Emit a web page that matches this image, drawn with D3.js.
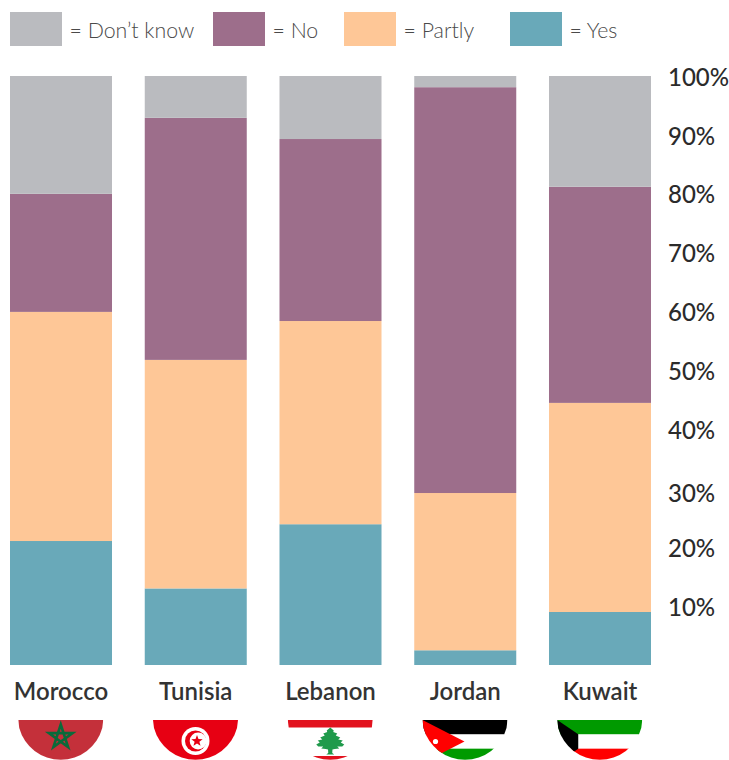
<!DOCTYPE html>
<html><head><meta charset="utf-8">
<script src="https://cdn.jsdelivr.net/npm/d3@7"></script>
<style>html,body{margin:0;padding:0;background:#fff}svg{display:block}</style>
</head><body><svg id="c" width="729" height="760"></svg>
<script>
const countries = ["Morocco","Tunisia","Lebanon","Jordan","Kuwait"];
const yes    = [21.05,13.0,23.9,2.5,9.0];
const partly = [38.9,38.8,34.5,26.7,35.5];
const no     = [20.05,41.1,30.9,68.9,36.7];
const dontKnow = [20.0,7.1,10.7,1.9,18.8];
const seriesKeys = ["Yes","Partly","No","Don’t know"];
const seriesColors = ["#69a9b9","#fec797","#9d6e8b","#babbbf"];
const legendOrder = ["Don’t know","No","Partly","Yes"];
const legendX = [10,213,344,510];
const ticks = [10,20,30,40,50,60,70,80,90,100];

const svg = d3.select("#c");
const x = d3.scaleBand().domain(countries).range([10,651]).paddingInner(0.243).paddingOuter(0);
const y = d3.scaleLinear().domain([0,100]).range([665,76]);
const color = d3.scaleOrdinal(seriesKeys,seriesColors);
const rows = countries.map((c,i)=>({country:c,"Yes":yes[i],"Partly":partly[i],"No":no[i],"Don’t know":dontKnow[i]}));
const stack = d3.stack().keys(seriesKeys)(rows);

svg.append("g").selectAll("g").data(stack).join("g").attr("fill",d=>color(d.key))
  .selectAll("rect").data(d=>d).join("rect")
  .attr("x",d=>x(d.data.country)).attr("width",x.bandwidth())
  .attr("y",d=>y(d[1])).attr("height",d=>y(d[0])-y(d[1]));

// legend
const lg = svg.append("g").selectAll("g").data(legendOrder).join("g")
  .attr("transform",(d,i)=>`translate(${legendX[i]},12)`);
lg.append("rect").attr("width",52).attr("height",34).attr("fill",d=>color(d));
lg.append("text").attr("x",59.5).attr("y",26).text(d=>"= "+d)
  .attr("font-family","Lato").attr("font-weight",300).attr("font-size",21.3).attr("fill","#4a4a4a");

// right axis
const tickY = d3.scaleLinear().domain([10,100]).range([607,77]);
const axis = d3.axisRight(tickY).tickValues(ticks).tickFormat(d=>d+"%").tickSize(0).tickPadding(0);
const ag = svg.append("g").attr("transform","translate(668,0)").call(axis);
ag.select(".domain").remove();
ag.selectAll("text").attr("font-family","Lato").attr("font-weight",500).attr("font-size",24).attr("fill","#2b2b2b")
  .attr("dy",d=>d===30?"0.5em":"0.34em");

// country labels
const bottom = d3.axisBottom(x).tickSize(0).tickPadding(0);
const bg = svg.append("g").attr("transform","translate(0,683)").call(bottom);
bg.select(".domain").remove();
bg.selectAll("text").attr("font-family","Lato").attr("font-weight",600).attr("font-size",24).attr("fill","#333").attr("dy","0.71em");

// flags
const defs = svg.append("defs");
const R=43, T=720, H=43, W=85;
function star(cx,cy,r,inner){const p=[];for(let i=0;i<10;i++){const a=-Math.PI/2+i*Math.PI/5,q=i%2?inner:r;p.push([cx+q*Math.cos(a),cy+q*Math.sin(a)]);}return "M"+p.join("L")+"Z";}
const flags={
 Morocco(g,l){g.append("rect").attr("x",l).attr("y",T).attr("width",W).attr("height",H).attr("fill","#c4303a");
   const cx=l+W/2,cy=T+17;const pts=[0,2,4,1,3].map(k=>{const a=-Math.PI/2+k*2*Math.PI/5;return [cx+12.5*Math.cos(a),cy+12.5*Math.sin(a)];});
   g.append("path").attr("d","M"+pts.join("L")+"Z").attr("fill","none").attr("stroke","#0a6a3a").attr("stroke-width",2.6);},
 Tunisia(g,l){g.append("rect").attr("x",l).attr("y",T).attr("width",W).attr("height",H).attr("fill","#e70013");
   const cx=l+W/2,cy=T+21;g.append("circle").attr("cx",cx).attr("cy",cy).attr("r",14).attr("fill","#fff");
   g.append("circle").attr("cx",cx).attr("cy",cy).attr("r",10.5).attr("fill","#e70013");
   g.append("circle").attr("cx",cx+2.6).attr("cy",cy).attr("r",8.4).attr("fill","#fff");
   g.append("path").attr("d",star(cx+1.5,cy,6,2.5)).attr("fill","#e70013");},
 Lebanon(g,l){g.append("rect").attr("x",l).attr("y",T).attr("width",W).attr("height",H).attr("fill","#fff");
   g.append("rect").attr("x",l).attr("y",T).attr("width",W).attr("height",7.5).attr("fill","#e2121e");
   g.append("rect").attr("x",l).attr("y",T+36).attr("width",W).attr("height",8).attr("fill","#e2121e");
   const c=l+W/2, t=T+7.5;
   const half=[[0,0],[3.5,3],[3,4.5],[7,6],[5.5,8],[10,10],[8,12],[12.5,13],[10.5,15],[14,17],[12,19],[7,19],[9,21],[4.5,21.5],[2.2,22],[2,25.5],[4,27]];
   const pts=half.concat(half.slice().reverse().slice(0,-1).map(([a,b])=>[-a,b]));
   g.append("path").attr("fill","#1f9a4b").attr("d","M"+pts.map(([a,b])=>[c+a,t+b]).join("L")+"Z");},
 Jordan(g,l){const s=H/3;[["#000",0],["#fff",1],["#009a00",2]].forEach(([f,i])=>g.append("rect").attr("x",l).attr("y",T+i*s).attr("width",W).attr("height",s+.3).attr("fill",f));
   g.append("path").attr("d",`M${l},${T}L${l+42},${T+H/2}L${l},${T+H}Z`).attr("fill","#f00");
   g.append("circle").attr("cx",l+13).attr("cy",T+21.5).attr("r",2.6).attr("fill","#fff");},
 Kuwait(g,l){const s=H/3;[["#009a00",0],["#fff",1],["#f00",2]].forEach(([f,i])=>g.append("rect").attr("x",l).attr("y",T+i*s).attr("width",W).attr("height",s+.3).attr("fill",f));
   g.append("path").attr("d",`M${l},${T}L${l+21},${T+s}L${l+21},${T+2*s}L${l},${T+H}Z`).attr("fill","#000");}
};
countries.forEach((c,i)=>{
  const cx=x(c)+x.bandwidth()/2-0.25, l=cx-W/2;
  defs.append("clipPath").attr("id","f"+i).append("path")
    .attr("d",`M${l},${T}H${l+W}L${l+W-1},${T+8}A${R},${R} 0 0 1 ${l+1},${T+8}Z`);
  const g=svg.append("g").attr("clip-path",`url(#f${i})`);
  flags[c](g,l);
});
</script></body></html>
